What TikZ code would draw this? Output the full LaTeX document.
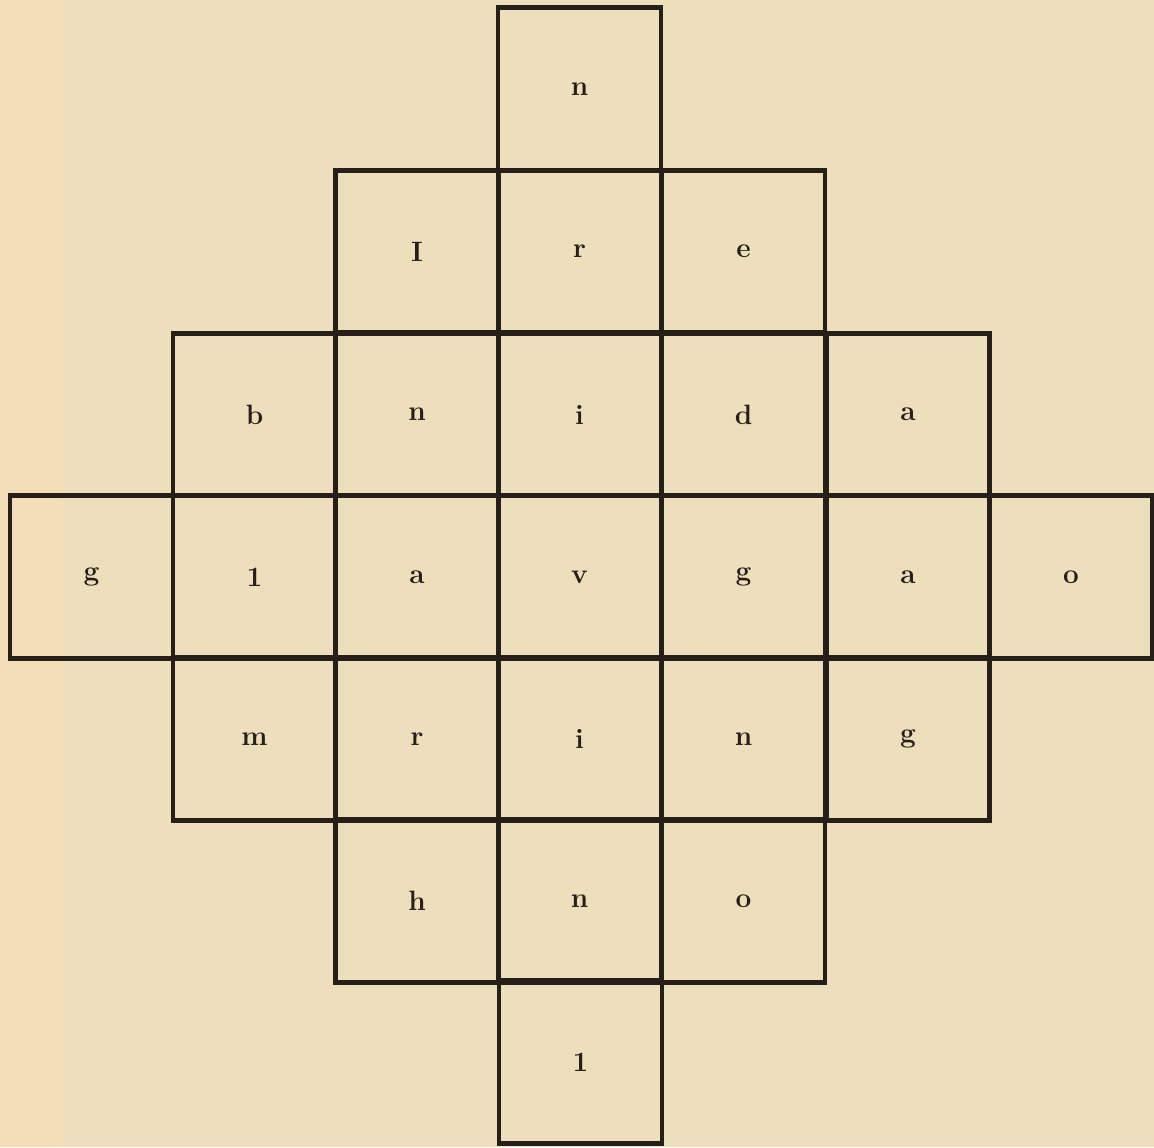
\documentclass[tikz,border=0pt]{standalone}
\usepackage{tikz}
\definecolor{paper}{RGB}{237,222,188}
\definecolor{paperleft}{RGB}{243,222,183}
\definecolor{ink}{RGB}{38,30,24}
\begin{document}
\begin{tikzpicture}[x=0.5pt,y=-0.5pt,
  cell/.style={draw=ink, line width=2.3pt, rectangle, inner sep=0pt, outer sep=0pt,
    minimum width=81.5pt, minimum height=81.25pt, text=ink, font=\fontsize{14}{17}\selectfont\bfseries}]
\fill[paper] (0,0) rectangle (1154,1147);
\fill[paperleft] (0,0) rectangle (62,1147);
\useasboundingbox (0,0) rectangle (1154,1147);
% row 0
\node[cell] (r0c3) at (579.5,89) {n};
% row 1
\node[cell] (r1c2) at (417,251.5) {I};
\node[cell] (r1c3) at (579.5,251.5) {r};
\node[cell] (r1c4) at (743.5,251.5) {e};
% row 2
\node[cell] (r2c1) at (254.5,414.5) {b};
\node[cell] (r2c2) at (417,414.5) {n};
\node[cell] (r2c3) at (579.5,414.5) {i};
\node[cell] (r2c4) at (743.5,414.5) {d};
\node[cell] (r2c5) at (908,414.5) {a};
% row 3
\node[cell] (r3c0) at (91.5,577) {g};
\node[cell] (r3c1) at (254.5,577) {1};
\node[cell] (r3c2) at (417,577) {a};
\node[cell] (r3c3) at (579.5,577) {v};
\node[cell] (r3c4) at (743.5,577) {g};
\node[cell] (r3c5) at (908,577) {a};
\node[cell] (r3c6) at (1071,577) {o};
% row 4
\node[cell] (r4c1) at (254.5,739) {m};
\node[cell] (r4c2) at (417,739) {r};
\node[cell] (r4c3) at (579.5,739) {i};
\node[cell] (r4c4) at (743.5,739) {n};
\node[cell] (r4c5) at (908,739) {g};
% row 5
\node[cell] (r5c2) at (417,901) {h};
\node[cell] (r5c3) at (579.5,901) {n};
\node[cell] (r5c4) at (743.5,901) {o};
% row 6
\node[cell] (r6c3) at (580.5,1062) {1};
\end{tikzpicture}
\end{document}
